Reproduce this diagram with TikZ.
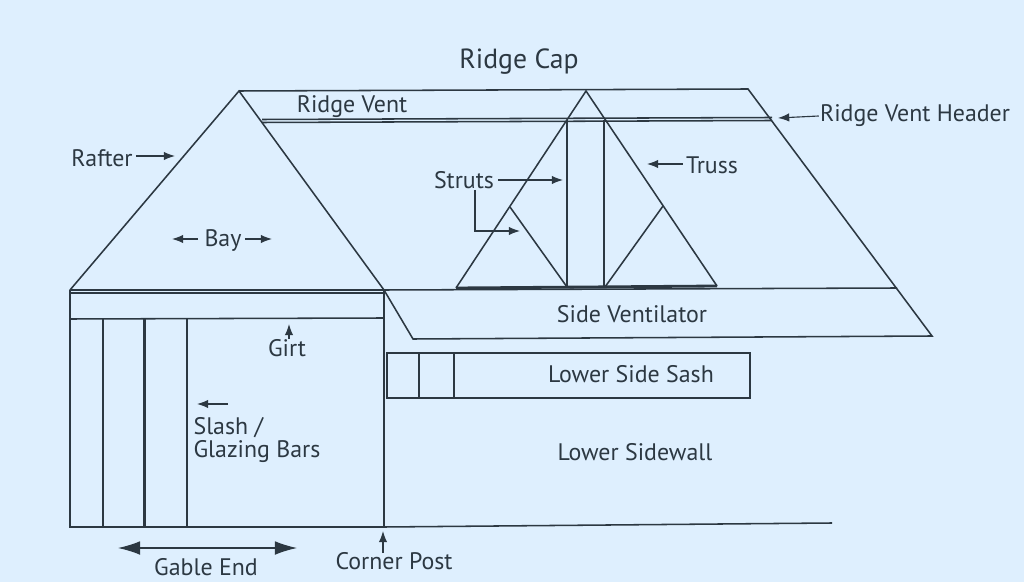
\documentclass[tikz,border=0pt]{standalone}
\usepackage{fontspec}
\setmainfont{PT Sans}
\usetikzlibrary{
  arrows.meta,
  positioning
}
\definecolor{bgsheet}{RGB}{222, 239, 254}
\definecolor{inkcolor}{RGB}{44, 56, 66}
\tikzset{
edge/.style={
  draw=inkcolor,
  line width=1.1pt
},
heavyedge/.style={
  draw=inkcolor,
  line width=2pt
},
partlabel/.style={
  font=\fontsize{17}{16.3}\selectfont,
  text=inkcolor,
  align=left,
  inner sep=0pt
},
arrow/.style={
  -{Latex[length=2.8mm,width=2.1mm]},
  line width=0.8pt,
  draw=inkcolor
},
bigarrow/.style={
  {Latex[length=5.5mm,width=3.4mm]}-{Latex[length=5.5mm,width=3.4mm]},
  line width=0.8pt,
  draw=inkcolor
}
}
\begin{document}
\begin{tikzpicture}[x=0.025cm,y=-0.025cm]
  \fill[bgsheet] (0,0) rectangle (1024,582);
  \useasboundingbox (0,0) rectangle (1024,582);
  % outline points
  \coordinate (apexgable) at (239,91);
  \coordinate (eaveleft) at (70,290);
  \coordinate (eaveright) at (384,290);
  \coordinate (footleft) at (70,527);
  \coordinate (footright) at (384,527);
  \coordinate (ridgeend) at (748,89);
  \coordinate (eaveend) at (897,288);
  \coordinate (ventend) at (932,336);
  \coordinate (ventstart) at (413,339);
  \coordinate (apextruss) at (586,91);
  \coordinate (trussleft) at (456,288);
  \coordinate (trussright) at (717,286);
  % gable end
  \draw[edge] (eaveleft) -- (apexgable) -- (eaveright);
  \draw[heavyedge] (eaveleft) -- (eaveright);
  \draw[edge] (70,293) -- (384,293);
  \draw[edge] (70,319) -- (384,318);
  \draw[edge] (eaveleft) -- (footleft) -- (footright) -- (832,523);
  \draw[heavyedge] (70,290) -- (70,319);
  \draw[heavyedge] (eaveright) -- (footright);
  \draw[edge] (103,319) -- (103,527);
  \draw[heavyedge] (144.5,319) -- (144.5,527);
  \draw[edge] (187,319) -- (187,527);
  % roof
  \draw[edge] (apexgable) -- (ridgeend) -- (ventend) -- (ventstart) -- (eaveright);
  \draw[edge] (eaveright) -- (eaveend);
  \draw[edge] (262,119.5) -- (772,117.5);
  \draw[edge] (262,122.5) -- (772,120.5);
  % truss
  \draw[edge] (trussleft) -- (apextruss) -- (trussright);
  \draw[heavyedge] (trussleft) -- (trussright);
  \draw[edge] (567,120) -- (567,287);
  \draw[edge] (604,120) -- (604,287);
  \draw[edge] (510,207) -- (567,287);
  \draw[edge] (663,206) -- (605,287);
  % lower side sash
  \draw[edge] (387,353) rectangle (750,398);
  \draw[edge] (419,353) -- (419,398);
  \draw[edge] (454,353) -- (454,398);
  % labels
  \node[partlabel,font=\fontsize{19.7}{23}\selectfont] (ridgecap) at (519,62) {Ridge Cap};
  \node[partlabel] (ridgevent) at (352,107) {Ridge Vent};
  \node[partlabel] (ventheader) at (915,116) {Ridge Vent Header};
  \node[partlabel] (rafter) at (102,158) {Rafter};
  \node[partlabel] (bay) at (223,240) {Bay};
  \node[partlabel] (struts) at (464,180) {Struts};
  \node[partlabel] (truss) at (712,165) {Truss};
  \node[partlabel] (sidevent) at (632,314) {Side Ventilator};
  \node[partlabel] (girt) at (287,348) {Girt};
  \node[partlabel] (sash) at (631,374) {Lower Side Sash};
  \node[partlabel] (sidewall) at (635,452) {Lower Sidewall};
  \node[partlabel] (glazing) at (257,440) {Slash /\\Glazing Bars};
  \node[partlabel] (gable) at (206,567) {Gable End};
  \node[partlabel] (post) at (394,561) {Corner Post};
  % arrow ends
  \coordinate (headertip) at (778,118);
  \coordinate (raftertip) at (175,156);
  \coordinate (bayleft) at (172,239);
  \coordinate (bayright) at (272,239);
  \coordinate (strutsupper) at (563,180);
  \coordinate (strutslower) at (520,231);
  \coordinate (trusstip) at (647,164);
  \coordinate (girttip) at (289,324);
  \coordinate (slashstart) at (228,404);
  \coordinate (slashtip) at (197,404);
  \coordinate (gableleft) at (118,548);
  \coordinate (gableright) at (297,548);
  \coordinate (poststart) at (383,553);
  \coordinate (posttip) at (383,531);
  % arrows
  \draw[arrow] (ventheader.west) ++(-1,0) -- (headertip);
  \draw[arrow] (rafter.east) ++(3,-2) -- (raftertip);
  \draw[arrow] (bay.west) ++(-6,-1) -- (bayleft);
  \draw[arrow] (bay.east) ++(3,-1) -- (bayright);
  \draw[arrow] (struts.east) ++(4,0) -- (strutsupper);
  \draw[arrow] (struts.south) ++(11,1) |- (strutslower);
  \draw[arrow] (truss.west) ++(-3,-1) -- (trusstip);
  \draw[arrow] (girt.north) ++(2,0) -- (girttip);
  \draw[arrow] (slashstart) -- (slashtip);
  \draw[bigarrow] (gableleft) -- (gableright);
  \draw[arrow] (poststart) -- (posttip);
\end{tikzpicture}
\end{document}
